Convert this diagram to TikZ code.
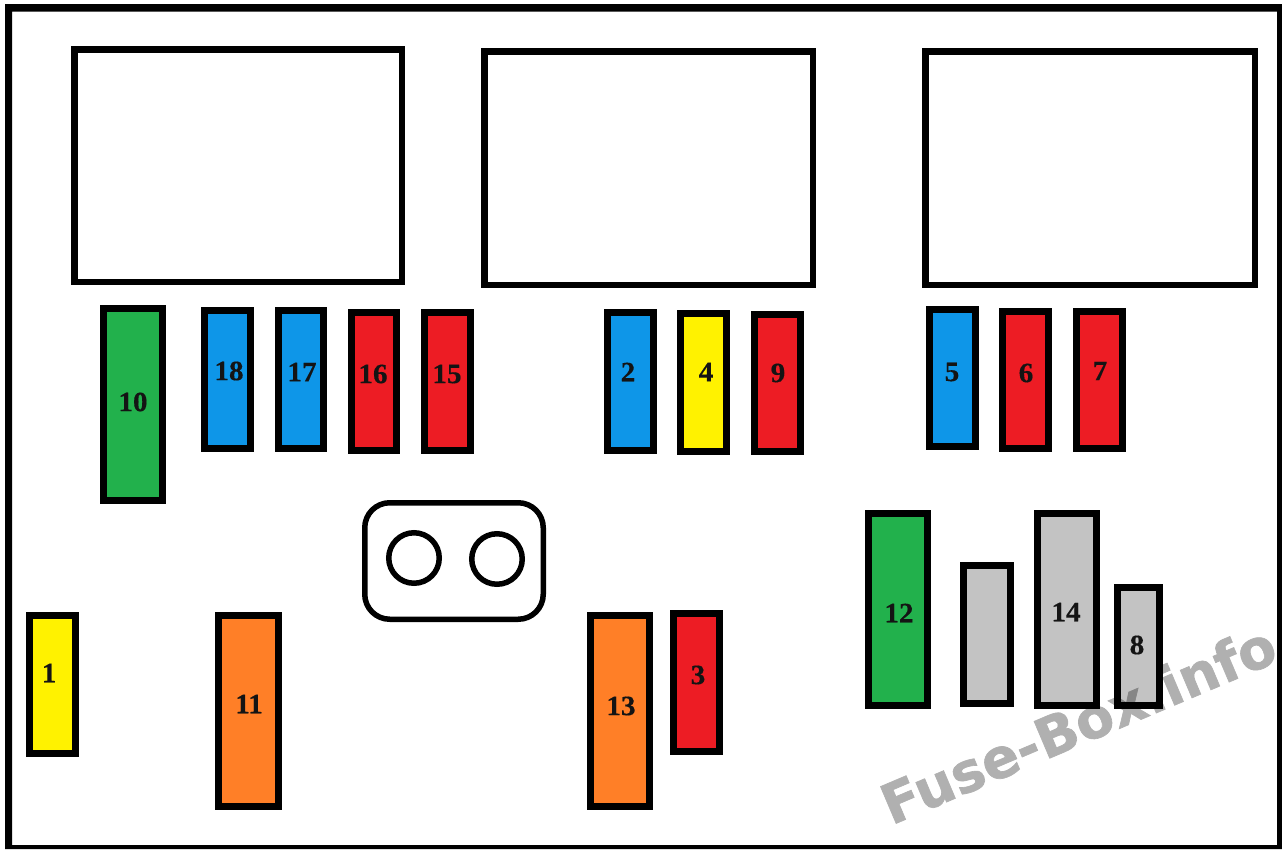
\documentclass[tikz,border=0pt]{standalone}
\usepackage{fontspec}
\setmainfont{Liberation Serif}
\newfontfamily\wmfont{DejaVu Sans}
\definecolor{fgreen}{RGB}{34,177,76}
\definecolor{fblue}{RGB}{14,150,232}
\definecolor{fred}{RGB}{237,28,36}
\definecolor{fyellow}{RGB}{255,242,0}
\definecolor{forange}{RGB}{255,127,39}
\definecolor{fgray}{RGB}{195,195,195}
\definecolor{wmgray}{RGB}{176,176,176}
\tikzset{
  fusebox/.style={draw=black,line width=7pt,rectangle,inner sep=0pt,outer sep=0pt},
  relaybox/.style={draw=black,line width=6.5pt,fill=white,rectangle,inner sep=0pt,outer sep=0pt},
  fusenum/.style={inner sep=0pt,font=\fontsize{28}{28}\selectfont\bfseries\addfontfeature{FakeBold=0.4,FakeStretch=1.04},text=black!92},
  hole/.style={draw=black,line width=5.5pt,circle,fill=white,inner sep=0pt,minimum size=50.5pt},
  mount/.style={draw=black,line width=5.5pt,rounded corners=25pt,fill=white,rectangle,inner sep=0pt},
  watermark/.style={text=wmgray,font=\wmfont\fontsize{55}{55}\selectfont\bfseries\addfontfeature{FakeBold=1.2},inner sep=0pt,rotate=23}
}
% \fuse{name}{x1}{y1}{x2}{y2}{colour}{label}{lx}{ly} : outer edges in reference pixels
\newcommand{\fuse}[9]{%
  \node[fusebox,fill=#6,minimum width={(#4-#2-7)*1pt},minimum height={(#5-#3-7)*1pt}] (f#1) at ({(#2+#4)/2},{(#3+#5)/2}) {};
  \node[fusenum] (n#1) at (#8,#9) {#7};
}
\newcommand{\relay}[5]{%
  \node[relaybox,minimum width={(#4-#2-6.5)*1pt},minimum height={(#5-#3-6.5)*1pt}] (#1) at ({(#2+#4)/2},{(#3+#5)/2}) {};
}
\begin{document}
\begin{tikzpicture}[x=1pt,y=-1pt]
\useasboundingbox (0,0) rectangle (1282,849);
\fill[white] (0,0) rectangle (1282,849);
\fill[black,even odd rule] (5,4) rectangle (1282,849) (12,11.5) rectangle (1277,845);
\relay{ra}{71}{46}{405}{285}
\relay{rb}{481}{48}{816}{288}
\relay{rc}{922}{48}{1258}{288}
\fuse{10}{100}{305}{166}{504}{fgreen}{10}{133}{402}
\fuse{18}{201}{307}{254}{452}{fblue}{18}{229}{371}
\fuse{17}{275}{307}{327}{452}{fblue}{17}{302}{372}
\fuse{16}{348}{309}{400}{454}{fred}{16}{373}{374}
\fuse{15}{421}{309}{474}{454}{fred}{15}{447}{374}
\fuse{2}{604}{309}{657}{454}{fblue}{2}{628}{372}
\fuse{4}{677}{310}{730}{455}{fyellow}{4}{706}{372}
\fuse{9}{751}{311}{804}{455}{fred}{9}{778}{373}
\fuse{5}{926}{306}{979}{450}{fblue}{5}{952}{372}
\fuse{6}{999}{308}{1052}{452}{fred}{6}{1026}{373}
\fuse{7}{1073}{308}{1126}{452}{fred}{7}{1100}{371}
\fuse{12}{865}{510}{931}{709}{fgreen}{12}{899}{613}
\fuse{x}{960}{562}{1014}{707}{fgray}{}{987}{635}
\fuse{14}{1034}{510}{1100}{709}{fgray}{14}{1066}{612}
\fuse{8}{1114}{584}{1163}{709}{fgray}{8}{1137}{645}
\fuse{1}{26}{612}{79}{757}{fyellow}{1}{49}{673}
\fuse{11}{215}{612}{282}{810}{forange}{11}{249}{704}
\fuse{13}{587}{612}{653}{810}{forange}{13}{621}{706}
\fuse{3}{670}{610}{723}{755}{fred}{3}{698}{675}
\node[mount,minimum width=178.5pt,minimum height=116.5pt] (mnt) at (454,561) {};
\node[hole] (h1) at (414,558) {};
\node[hole] (h2) at (497,559) {};
\begin{scope}[transparency group,blend mode=multiply]
\node[watermark] (wm) at (1078,724) {Fuse-Box.info};
\end{scope}
\end{tikzpicture}
\end{document}
